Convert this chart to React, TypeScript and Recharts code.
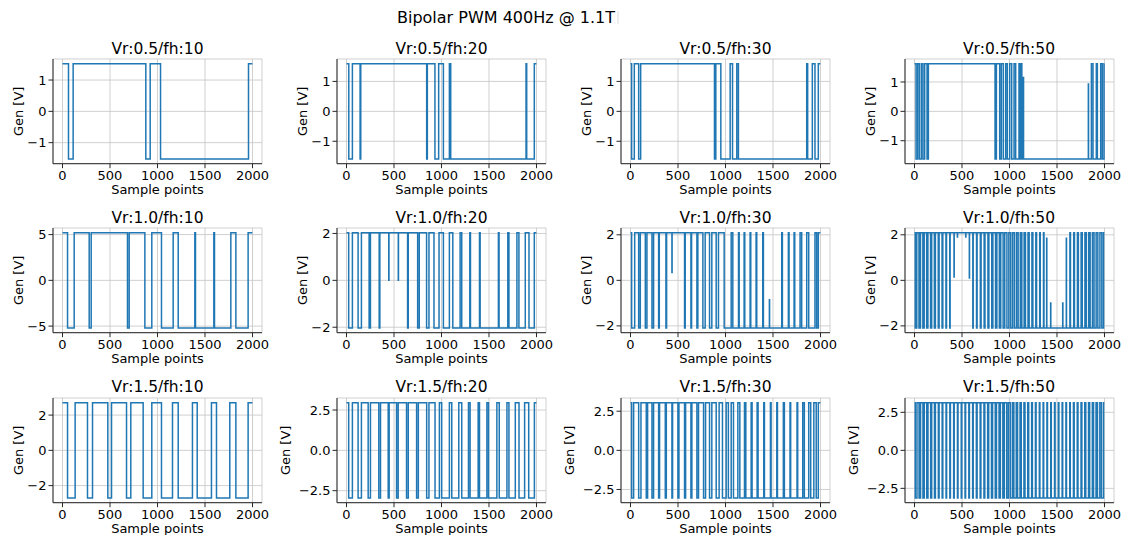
import React from 'react';
import { LineChart, Line, XAxis, YAxis, CartesianGrid, Label } from 'recharts';

const FONT = '"DejaVu Sans", sans-serif';
const TRACE = '#1f77b4';
const SPINE = '#262626';
const GRID = '#c4c4c4';

const figureTitle = 'Bipolar PWM 400Hz @ 1.1T';
const refLabels = ['0.5', '1.0', '1.5'];
const harmonicLabels = ['10', '20', '30', '50'];
const sampleTicks = [0, 500, 1000, 1500, 2000];
const sampleCount = 2000;

// Output level (V) of each panel, per reference amplitude
const levelsVr05 = [1.52, 1.59, 1.59, 1.62];
const levelsVr10 = [5.2, 2.03, 2.09, 2.09];
const levelsVr15 = [2.7, 2.95, 3.04, 3.13];

// Voltage ticks per panel
const ticksVr05 = [[-1, 0, 1], [-1, 0, 1], [-1, 0, 1], [-1, 0, 1]];
const ticksVr10 = [[-5, 0, 5], [-2, 0, 2], [-2, 0, 2], [-2, 0, 2]];
const ticksVr15 = [[-2, 0, 2], [-2.5, 0, 2.5], [-2.5, 0, 2.5], [-2.5, 0, 2.5]];

// Switching instants (sample index); the output starts high and toggles at each one
const sw05_10 = [63, 112, 877, 923, 1032, 1958];
const sw05_20 = [24, 62, 143, 150, 844, 851, 931, 970, 1020, 1083, 1097, 1890, 1897, 1977];
const sw05_30 = [12, 40, 86, 107, 884, 898, 951, 1049, 1074, 1119, 1136, 1855, 1865, 1914, 1942, 1977];
const sw05_50 = [16, 33, 51, 72, 89, 107, 132, 146, 848, 862, 897, 914, 935, 960, 977, 1002, 1023, 1048, 1065, 1100, 1110, 1125, 1130, 1862, 1879, 1914, 1925, 1960, 1977, 1995];

const sw10_10 = [53, 123, 281, 302, 684, 702, 867, 940, 1042, 1165, 1218, 1393, 1400, 1593, 1600, 1772, 1825, 1954];
const sw10_20 = [23, 62, 122, 157, 238, 252, 344, 351, 643, 650, 749, 766, 843, 868, 921, 974, 1020, 1083, 1119, 1196, 1213, 1298, 1305, 1400, 1407, 1599, 1606, 1698, 1710, 1794, 1815, 1882, 1921, 1977];
const sw10_30 = [12, 44, 86, 103, 156, 173, 226, 243, 296, 303, 373, 380, 569, 576, 636, 643, 699, 709, 762, 786, 832, 856, 902, 926, 986, 1060, 1077, 1137, 1144, 1196, 1203, 1259, 1266, 1322, 1329, 1392, 1399, 1592, 1599, 1662, 1669, 1722, 1729, 1785, 1802, 1855, 1876, 1942, 1960, 1977];
const sw10_50 = [8, 24, 47, 63, 88, 102, 128, 141, 169, 181, 209, 220, 250, 259, 290, 298, 331, 337, 371, 375, 614, 618, 653, 659, 693, 701, 733, 742, 773, 783, 813, 825, 853, 867, 893, 908, 933, 950, 973, 993, 1013, 1033, 1052, 1074, 1091, 1114, 1130, 1154, 1168, 1195, 1207, 1236, 1246, 1277, 1285, 1318, 1324, 1358, 1363, 1636, 1642, 1676, 1684, 1715, 1725, 1754, 1766, 1794, 1808, 1833, 1849, 1873, 1890, 1912, 1930, 1952, 1972, 1990];

const sw15_10 = [53, 133, 263, 316, 477, 516, 674, 719, 849, 940, 1042, 1158, 1218, 1368, 1418, 1568, 1621, 1761, 1825, 1954];
const sw15_20 = [23, 62, 122, 157, 228, 252, 340, 358, 439, 449, 527, 544, 632, 650, 738, 756, 844, 868, 932, 978, 1002, 1083, 1108, 1182, 1213, 1284, 1301, 1386, 1400, 1478, 1495, 1583, 1608, 1689, 1710, 1777, 1816, 1875, 1918, 1978];
const sw15_30 = [12, 33, 86, 110, 166, 180, 226, 243, 296, 306, 366, 377, 436, 443, 499, 510, 569, 580, 636, 646, 699, 716, 769, 790, 832, 856, 902, 933, 968, 1007, 1030, 1060, 1084, 1130, 1151, 1200, 1214, 1270, 1280, 1333, 1343, 1403, 1410, 1473, 1480, 1540, 1547, 1609, 1620, 1679, 1686, 1753, 1760, 1813, 1830, 1876, 1897, 1930, 1955, 1977];
const sw15_50 = [8, 26, 48, 64, 89, 103, 129, 142, 170, 181, 210, 220, 251, 259, 291, 298, 332, 338, 372, 378, 412, 418, 452, 458, 492, 498, 532, 538, 572, 578, 612, 618, 651, 659, 691, 699, 731, 740, 770, 781, 810, 822, 850, 863, 890, 904, 930, 945, 970, 987, 1008, 1030, 1046, 1071, 1085, 1111, 1124, 1152, 1163, 1192, 1202, 1233, 1241, 1273, 1280, 1314, 1320, 1354, 1360, 1394, 1400, 1434, 1440, 1474, 1480, 1514, 1520, 1554, 1560, 1594, 1600, 1634, 1640, 1673, 1681, 1713, 1721, 1753, 1762, 1792, 1803, 1832, 1844, 1872, 1885, 1911, 1926, 1951, 1968, 1990];

// Short pulses that never reach the opposite rail: [sample, value]
const spikes05_50 = [[1146, 1.15], [1830, 0.93]];
const spikes10_20 = [[445, 0], [545, 0]];
const spikes10_30 = [[436, 0.35], [1462, -0.85]];
const spikes10_50 = [[416, 0.15], [451, 1.9], [539, 1.9], [577, 0.1], [1391, 1.85], [1433, -1.0], [1560, -1.0], [1598, 1.85]];

const switchRows = [
  [sw05_10, sw05_20, sw05_30, sw05_50],
  [sw10_10, sw10_20, sw10_30, sw10_50],
  [sw15_10, sw15_20, sw15_30, sw15_50],
];
const spikeRows: number[][][][] = [
  [[], [], [], spikes05_50],
  [[], spikes10_20, spikes10_30, spikes10_50],
  [[], [], [], []],
];
const levelRows = [levelsVr05, levelsVr10, levelsVr15];
const tickRows = [ticksVr05, ticksVr10, ticksVr15];

// Panel geometry (plot area of each axes, in page pixels)
const colLeft = [53, 337, 621, 904.5];
const rowTop = [59, 228.3, 397.6];
const PW = 209;
const PH = 104.7;
const YW = 60;
const XH = 40;
const MT = 2;
const MR = 20;

type Pt = { x: number; y: number };

function levelAt(edges: number[], amp: number, s: number) {
  const n = edges.filter((e) => e <= s).length;
  return n % 2 === 0 ? amp : -amp;
}

function buildTrace(edges: number[], amp: number, spikes: number[][]): Pt[] {
  const pts: Pt[] = [{ x: 0, y: amp }];
  edges.forEach((e) => pts.push({ x: e, y: levelAt(edges, amp, e) }));
  spikes.forEach(([s, v]) => {
    const back = levelAt(edges, amp, s);
    pts.push({ x: s, y: v }, { x: s + 2, y: back });
  });
  pts.sort((a, b) => a.x - b.x);
  pts.push({ x: sampleCount - 1, y: levelAt(edges, amp, sampleCount - 1) });
  return pts;
}

const tickStyle = { fontSize: 13, fill: '#000', fontFamily: FONT };

const SampleLabel = (props: any) => {
  const vb = props.viewBox;
  return (
    <text x={vb.x + vb.width / 2} y={vb.y + 30.3} textAnchor="middle" fontSize={13} fontFamily={FONT} fill="#000">
      Sample points
    </text>
  );
};

const makeGenLabel = (gap: number) => (props: any) => {
  const vb = props.viewBox;
  const cx = vb.x + vb.width - gap;
  const cy = vb.y + vb.height / 2;
  return (
    <text x={cx} y={cy} transform={`rotate(-90 ${cx} ${cy})`} textAnchor="middle" fontSize={13} fontFamily={FONT} fill="#000">
      Gen [V]
    </text>
  );
};

function Panel({ row, col }: { row: number; col: number }) {
  const amp = levelRows[row][col];
  const data = buildTrace(switchRows[row][col], amp, spikeRows[row][col]);
  const lim = amp * 1.1;
  const ticks = tickRows[row][col];
  const decimals = ticks.some((t) => !Number.isInteger(t)) ? 1 : 0;
  const fmt = (v: number) => {
    const s = Math.abs(v).toFixed(decimals);
    return v < 0 ? '\u2212' + s : s;
  };
  const gap = decimals ? 47 : 29.7;
  return (
    <div style={{ position: 'absolute', left: colLeft[col] - YW, top: rowTop[row] - MT }}>
      <LineChart width={YW + PW + MR} height={MT + PH + XH} data={data} margin={{ top: MT, right: MR, bottom: 0, left: 0 }}>
        <CartesianGrid stroke={GRID} strokeWidth={0.8} />
        <XAxis
          dataKey="x"
          type="number"
          domain={[-100, 2100]}
          ticks={sampleTicks}
          interval={0}
          height={XH}
          tickSize={4.5}
          tickMargin={2.5}
          tick={tickStyle}
          axisLine={{ stroke: SPINE }}
          tickLine={{ stroke: SPINE }}
          allowDataOverflow
        >
          <Label content={SampleLabel} />
        </XAxis>
        <XAxis xAxisId="top" orientation="top" type="number" domain={[-100, 2100]} height={0} tick={false} tickLine={false} axisLine={{ stroke: SPINE }} />
        <YAxis
          type="number"
          domain={[-lim, lim]}
          ticks={ticks}
          interval={0}
          width={YW}
          tickSize={4.5}
          tickMargin={2}
          tick={tickStyle}
          tickFormatter={fmt}
          axisLine={{ stroke: SPINE }}
          tickLine={{ stroke: SPINE }}
          allowDataOverflow
        >
          <Label content={makeGenLabel(gap)} />
        </YAxis>
        <YAxis yAxisId="right" orientation="right" type="number" domain={[-lim, lim]} width={0} tick={false} tickLine={false} axisLine={{ stroke: SPINE }} />
        <Line type="stepAfter" dataKey="y" stroke={TRACE} strokeWidth={1.5} dot={false} isAnimationActive={false} />
      </LineChart>
    </div>
  );
}

export default function App() {
  const cells: { row: number; col: number }[] = [];
  refLabels.forEach((_, r) => harmonicLabels.forEach((__, c) => cells.push({ row: r, col: c })));
  return (
    <div style={{ position: 'absolute', left: 0, top: 0, width: 1126, height: 535, background: '#fff', overflow: 'hidden' }}>
      {cells.map(({ row, col }) => (
        <Panel key={`${row}-${col}`} row={row} col={col} />
      ))}
      <svg width={1126} height={535} style={{ position: 'absolute', left: 0, top: 0, pointerEvents: 'none' }}>
        <text x={397} y={22.7} fontSize={16} fontFamily={FONT} fill="#000">
          {figureTitle}
        </text>
        <line x1={618} x2={618} y1={11} y2={24} stroke="#dcdcdc" strokeWidth={1} />
        {cells.map(({ row, col }) => (
          <text
            key={`t-${row}-${col}`}
            x={colLeft[col] + PW / 2}
            y={rowTop[row] - 5.2}
            textAnchor="middle"
            fontSize={15.5}
            fontFamily={FONT}
            fill="#000"
          >
            {`Vr:${refLabels[row]}/fh:${harmonicLabels[col]}`}
          </text>
        ))}
      </svg>
    </div>
  );
}
